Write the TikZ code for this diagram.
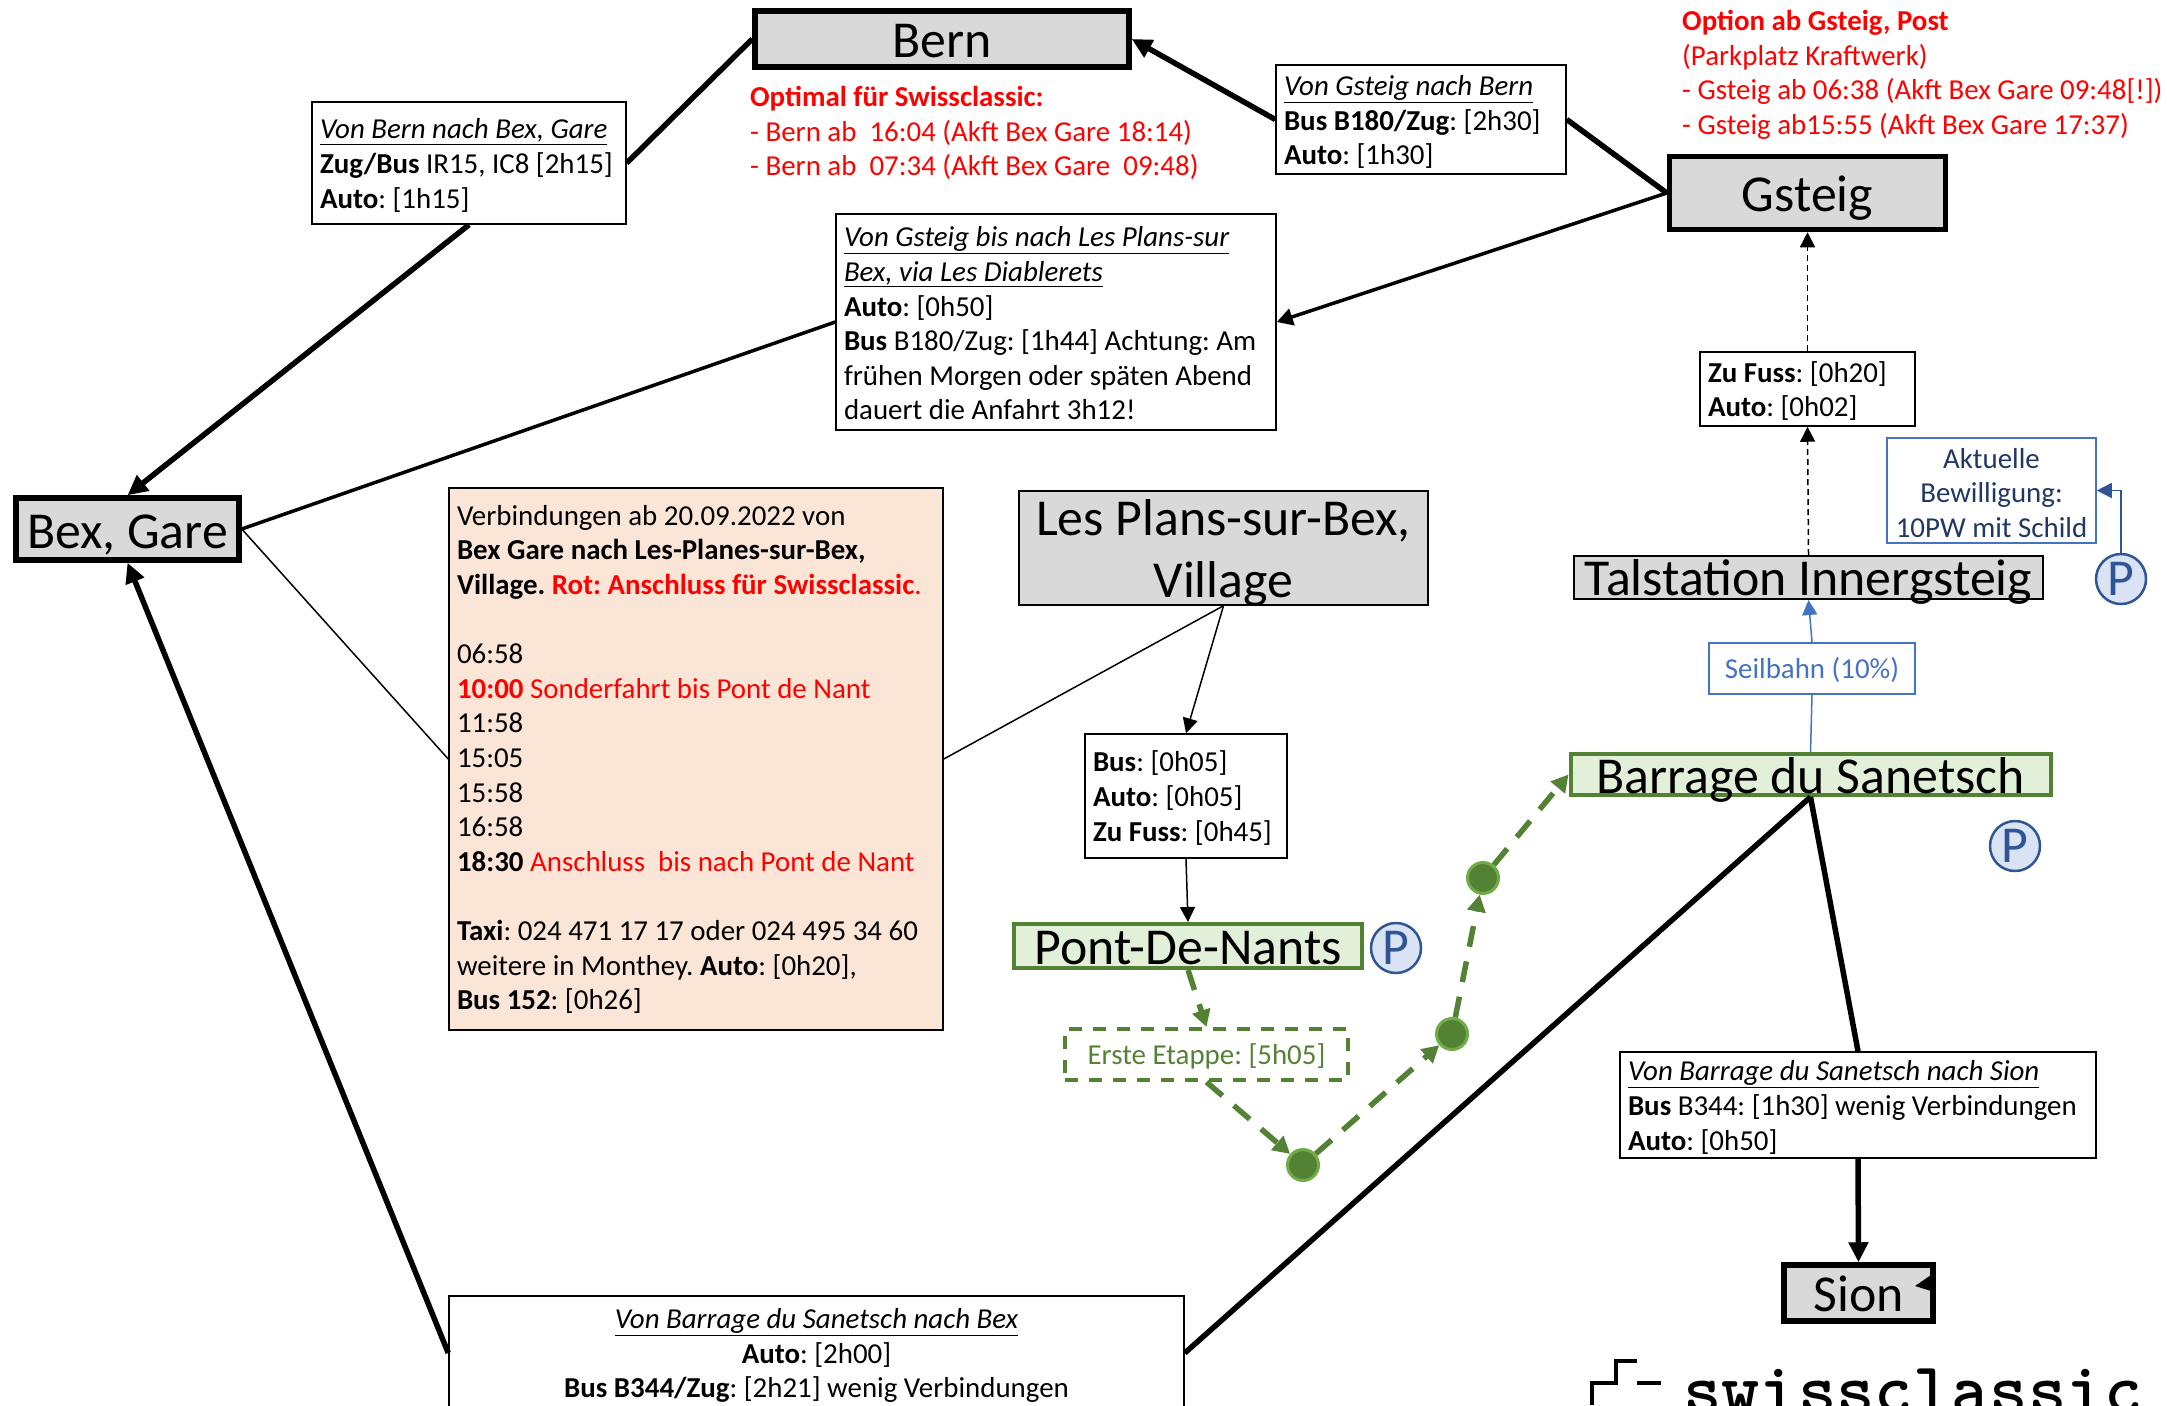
\documentclass[tikz,border=0pt]{standalone}
\usepackage{fontspec}
\setmainfont{Carlito}
\usetikzlibrary{arrows.meta,shapes.geometric}

\definecolor{hubgrey}{HTML}{D9D9D9}
\definecolor{stagefill}{HTML}{E2F0D9}
\definecolor{stagegreen}{HTML}{548235}
\definecolor{dotgreen}{HTML}{70AD47}
\definecolor{parkblue}{HTML}{2F5597}
\definecolor{parkfill}{HTML}{DAE3F3}
\definecolor{navy}{HTML}{203864}
\definecolor{ropeblue}{HTML}{4472C4}
\definecolor{timefill}{HTML}{FBE5D6}

\newcommand{\bigsize}{\fontsize{51.8}{62}\selectfont}
\newcommand{\boxsize}{\fontsize{28.9}{34.6}\selectfont\frenchspacing}

\begin{document}
\begin{tikzpicture}[->,x=1pt,y=-1pt,font=\boxsize]
	\tikzstyle{hub}=[draw,fill=hubgrey,line width=5.5pt,inner sep=0pt,font=\bigsize]
	\tikzstyle{stage}=[hub,draw=stagegreen,fill=stagefill,line width=4pt]
	\tikzstyle{info}=[draw,fill=white,line width=1.5pt,inner xsep=8pt,inner ysep=0pt,align=flush left,text height=25pt]
	\tikzstyle{redinfo}=[anchor=north west,inner sep=0pt,align=left,text=red]
	\tikzstyle{park}=[circle,draw=parkblue,fill=parkfill,text=parkblue,line width=2.5pt,minimum size=50pt,inner sep=0pt,font=\bigsize]
	\tikzstyle{waypoint}=[circle,draw=dotgreen,fill=stagegreen,line width=3pt,minimum size=31pt,inner sep=0pt]
	\tikzstyle{thicklink}=[line width=5.5pt,>={Triangle[length=20pt,width=19pt]}]
	\tikzstyle{midlink}=[line width=3.5pt,>={Triangle[length=16pt,width=17pt]}]
	\tikzstyle{thinlink}=[line width=1.5pt,>={Triangle[length=15pt,width=15pt]}]
	\tikzstyle{walklink}=[thinlink,dash pattern=on 6pt off 4pt]
	\tikzstyle{bluelink}=[thinlink,draw=ropeblue]
	\tikzstyle{greenlink}=[line width=5.5pt,draw=stagegreen,dash pattern=on 21pt off 15pt,>={Triangle[length=17pt,width=18pt]}]

	\useasboundingbox (0,0) rectangle (2167,1405);
	\clip (0,0) rectangle (2167,1405);

	\node[hub,minimum width=374pt,text height=46pt,text depth=10pt] (Bern) at (942,39) {Bern};
	\node[hub,minimum width=276pt,text height=55pt,text depth=18pt] (Gsteig) at (1807.5,193) {Gsteig};
	\node[hub,minimum width=223pt,text height=50pt,text depth=12pt] (Bex) at (127.5,529) {Bex, Gare};
	\node[hub,line width=1.5pt,minimum width=409pt,minimum height=114pt,align=center,text height=101pt,text depth=2pt] (Plans) at (1223.5,548) {Les Plans-sur-Bex,\\Village};
	\node[hub,line width=2pt,minimum width=469pt,text height=39pt,text depth=4pt] (Talstation) at (1808.5,577.5) {Talstation Innergsteig};
	\node[stage,minimum width=480pt,text height=39pt,text depth=2pt] (Barrage) at (1810.5,774.5) {Barrage du Sanetsch};
	\node[stage,minimum width=348pt,text height=40pt,text depth=4pt] (Pont) at (1188,946) {Pont-De-Nants};
	\node[hub,minimum width=149pt,text height=46pt,text depth=10pt] (Sion) at (1858.5,1293) {Sion};

	\node[info,text width=298pt,minimum height=122pt] (BernBex) at (469,163) {\textit{\underline{Von Bern nach Bex, Gare}}\\\textbf{Zug/Bus} IR15, IC8 [2h15]\\\textbf{Auto}: [1h15]};
	\node[info,text width=274pt,minimum height=109pt] (GsteigBern) at (1421,119.5) {\textit{\underline{Von Gsteig nach Bern}}\\\textbf{Bus B180/Zug}: [2h30]\\\textbf{Auto}: [1h30]};
	\node[info,text width=424pt,minimum height=216pt,text height=23pt] (GsteigPlans) at (1056,322) {\textit{\underline{Von Gsteig bis nach Les Plans-sur}}\\\textit{\underline{Bex, via Les Diablerets}}\\\textbf{Auto}: [0h50]\\\textbf{Bus} B180/Zug: [1h44] Achtung: Am\\frühen Morgen oder späten Abend\\dauert die Anfahrt 3h12!};
	\node[info,fill=timefill,text width=478pt,minimum height=542pt,text height=21pt] (Times) at (696,759) {Verbindungen ab 20.09.2022 von\\\textbf{Bex Gare nach Les-Planes-sur-Bex,}\\\textbf{Village. \textcolor{red}{Rot: Anschluss für Swissclassic}}\textcolor{red}{.}\\[34.6pt]06:58\\\textcolor{red}{\textbf{10:00} Sonderfahrt bis Pont de Nant}\\11:58\\15:05\\15:58\\16:58\\\textbf{18:30} \textcolor{red}{Anschluss\ \ bis nach Pont de Nant}\\[34.6pt]\textbf{Taxi}: 024 471 17 17 oder 024 495 34 60\\weitere in Monthey. \textbf{Auto}: [0h20],\\\textbf{Bus 152}: [0h26]};
	\node[info,text width=186pt,minimum height=124pt] (PlansPont) at (1186,796) {\textbf{Bus}: [0h05]\\\textbf{Auto}: [0h05]\\\textbf{Zu Fuss}: [0h45]};
	\node[info,text width=199pt,minimum height=74pt] (Walk) at (1807.5,389) {\textbf{Zu Fuss}: [0h20]\\\textbf{Auto}: [0h02]};
	\node[info,draw=ropeblue,text=navy,align=flush center,inner xsep=4pt,text width=201pt,minimum height=105pt] (Permit) at (1991.5,490.5) {Aktuelle\\Bewilligung:\\10PW mit Schild};
	\node[info,draw=ropeblue,text=ropeblue,align=center,minimum width=206pt,minimum height=51pt,text height=24pt,text depth=4pt] (Rope) at (1812,668.5) {Seilbahn (10\%)};
	\node[info,draw=stagegreen,text=stagegreen,line width=4pt,dash pattern=on 13pt off 11pt,fill=none,align=center,minimum width=283pt,minimum height=51pt,text height=24pt,text depth=4pt] (Etappe) at (1206.5,1054.5) {Erste Etappe: [5h05]};
	\node[info,text width=460pt,minimum height=106pt] (BarrageSion) at (1858,1105) {\textit{\underline{Von Barrage du Sanetsch nach Sion}}\\\textbf{Bus} B344: [1h30] wenig Verbindungen\\\textbf{Auto}: [0h50]};
	\node[info,align=flush center,text width=719pt,minimum height=114pt] (BarrageBex) at (816.5,1353) {\textit{\underline{Von Barrage du Sanetsch nach Bex}}\\\textbf{Auto}: [2h00]\\\textbf{Bus B344/Zug}: [2h21] wenig Verbindungen};

	\node[park] (ParkTal) at (2121,579) {P};
	\node[park] (ParkBar) at (2015,846) {P};
	\node[park] (ParkPont) at (1396,948) {P};
	\node[waypoint] (WayA) at (1303,1165) {};
	\node[waypoint] (WayB) at (1452,1034) {};
	\node[waypoint] (WayC) at (1483,878) {};

	\node[redinfo] (BernNote) at (750,86) {\textbf{Optimal für Swissclassic:}\\- Bern ab\ \ 16:04 (Akft Bex Gare 18:14)\\- Bern ab\ \ 07:34 (Akft Bex Gare\ \ 09:48)};
	\node[redinfo] (GsteigNote) at (1682,10) {\textbf{Option ab Gsteig, Post}\\(Parkplatz Kraftwerk)\\- Gsteig ab 06:38 (Akft Bex Gare 09:48[!])\\- Gsteig ab15:55 (Akft Bex Gare 17:37)};

	\node[anchor=base west,inner sep=0pt,font=\fontsize{73}{73}\selectfont\ttfamily\bfseries] (Logo) at (1683,1413) {swissclassic};
	\draw[-,line width=4pt] (1592,1405) -- (1592,1383) -- (1616,1383) -- (1616,1361) -- (1637,1361);
	\draw[-,line width=4pt] (1637,1383) -- (1661,1383);
	\fill (1931,1275) -- (1915,1286) -- (1931,1291) -- cycle;

	\path (GsteigBern.west)	edge [thicklink]	(Bern.east)
		  (Gsteig.west)		edge [thicklink,-]	(GsteigBern.east)
		  (Gsteig.west)		edge [midlink]		(GsteigPlans.east)
		  (GsteigPlans.west)	edge [midlink,-]	(Bex.east)
		  (Bern.west)		edge [thicklink,-]	(BernBex.east)
		  (BernBex.south)	edge [thicklink]	(Bex.north)

		  (Bex.east)		edge [thinlink,-]	(Times.west)
		  (Times.east)		edge [thinlink,-]	(Plans.south)
		  (Plans.south)		edge [thinlink]		(PlansPont.north)
		  (PlansPont.south)	edge [thinlink]		(Pont.north)

		  (Pont.south)		edge [greenlink]	(Etappe.north)
		  (Etappe.south)	edge [greenlink]	(WayA)
		  (WayA)			edge [greenlink]	(WayB)
		  (WayB)			edge [greenlink]	(WayC)
		  (WayC)			edge [greenlink]	(Barrage.west)

		  (Barrage.south)	edge [thicklink,-]	(BarrageBex.east)
		  (BarrageBex.west)	edge [thicklink]	(Bex.south)
		  (Barrage.south)	edge [thicklink,-]	(BarrageSion.north)
		  (BarrageSion.south)	edge [thicklink]	(Sion.north)

		  (Barrage.north)	edge [bluelink,-]	(Rope.south)
		  (Rope.north)		edge [bluelink]		(Talstation.south)
		  (Talstation.north)	edge [walklink]		(Walk.south)
		  (Walk.north)		edge [walklink]		(Gsteig.south)
		  ;
	\draw[thinlink,draw=parkblue,fill=none] (ParkTal.north) |- (Permit.east);
\end{tikzpicture}
\end{document}
